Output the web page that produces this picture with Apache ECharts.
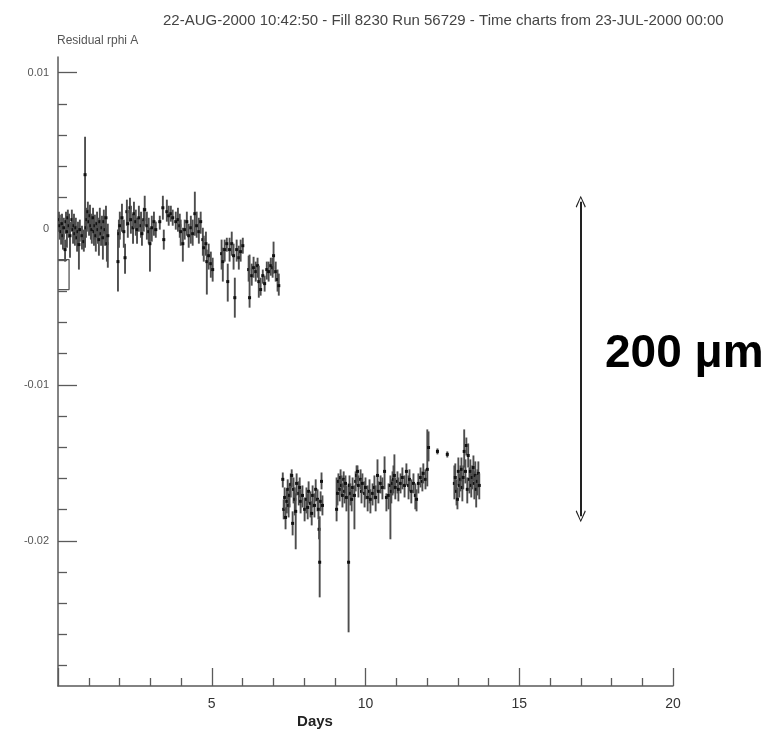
<!DOCTYPE html>
<html><head><meta charset="utf-8">
<script src="https://cdn.jsdelivr.net/npm/echarts@6/dist/echarts.min.js"></script>
<style>html,body{margin:0;padding:0;background:#fff}#c{width:782px;height:733px}</style>
</head><body><div id="c"></div>
<script>
const titleText = '22-AUG-2000 10:42:50 - Fill 8230 Run 56729 - Time charts from 23-JUL-2000 00:00';
const yAxisTitle = 'Residual rphi A';
const xAxisTitle = 'Days';
const xTickLabels = [5, 10, 15, 20];
const yMajorTicks = [-0.02, -0.01, 0, 0.01];
const yMinorTicks = [0.008, 0.006, 0.004, 0.002, -0.002, -0.004, -0.006, -0.008,
  -0.012, -0.014, -0.016, -0.018, -0.022, -0.024, -0.026, -0.028];

// [day, value, low end of bar, high end of bar]
const run1 = [
[0.03,0.00058,-0.00019,0.00109],[0.06,0.00019,-0.0007,0.0009],[0.10,-0.00019,-0.00102,0.00045],
[0.13,0.00032,-0.00045,0.00096],[0.16,-0.00045,-0.00134,0.00019],[0.19,0.00006,-0.0007,0.0007],
[0.23,-0.00134,-0.00211,-0.0007],[0.26,0.00045,-0.00032,0.00109],[0.29,-0.00019,-0.00122,0.00058],
[0.32,0.0007,-0.00006,0.00122],[0.36,0.00019,-0.00058,0.00096],[0.39,-0.00045,-0.00186,0.00045],
[0.45,0.00058,-0.00019,0.00122],[0.49,-0.00006,-0.00096,0.0007],[0.52,0.00019,-0.0007,0.00096],
[0.55,-0.00032,-0.00109,0.00045],[0.58,0.00006,-0.0007,0.0007],[0.62,-0.00058,-0.00147,0.00019],
[0.65,-0.00019,-0.00109,0.00045],[0.68,-0.00102,-0.00262,-0.00006],[0.71,-0.00006,-0.00083,0.00058],
[0.78,-0.00045,-0.00134,0.00019],[0.84,-0.00083,-0.00147,-0.00006],[0.88,0.00346,-0.00122,0.00589],
[0.91,0.00006,-0.00058,0.0007],[0.94,0.00058,-0.00019,0.00134],[0.97,0.00109,0.00032,0.00173],
[1.01,0.00045,-0.00045,0.00122],[1.04,0.00083,0.00006,0.00154],[1.07,0.00019,-0.0007,0.00096],
[1.10,-0.00006,-0.00096,0.00083],[1.14,0.0007,-0.00006,0.00134],[1.17,-0.00019,-0.00109,0.00058],
[1.20,0.00019,-0.0007,0.0009],[1.23,-0.00045,-0.00147,0.00045],[1.27,0.00032,-0.00058,0.00109],
[1.30,-0.00006,-0.00096,0.0007],[1.33,-0.0007,-0.00173,0.00019],[1.36,0.00045,-0.00045,0.00134],
[1.40,-0.00032,-0.00109,0.00058],[1.43,0.00006,-0.00083,0.00083],[1.46,-0.00058,-0.00198,0.00019],
[1.49,0.00045,-0.00032,0.00122],[1.53,-0.00006,-0.00109,0.00083],[1.56,0.0007,-0.00019,0.00147],
[1.59,-0.00096,-0.00211,-0.00006],[1.62,-0.00045,-0.0025,0.00032],[1.95,-0.00211,-0.00403,-0.00006],
[1.98,-0.00032,-0.00122,0.00058],[2.01,0.00019,-0.0007,0.00109],[2.08,0.0007,-0.00019,0.0016],
[2.14,-0.00019,-0.00122,0.00058],[2.18,-0.00186,-0.00288,-0.00096],[2.24,0.00109,0.00019,0.00186],
[2.27,0.00032,-0.00058,0.00122],[2.34,0.00134,0.00045,0.00198],[2.37,0.00058,-0.00032,0.00147],
[2.44,0.00006,-0.00096,0.00096],[2.47,0.00096,0.00006,0.00173],[2.53,0.00045,-0.00045,0.00122],
[2.57,-0.00006,-0.00096,0.0007],[2.63,0.0007,-0.00019,0.00147],[2.70,0.00019,-0.00058,0.00109],
[2.73,-0.00032,-0.00109,0.00058],[2.79,0.00058,-0.00019,0.00134],[2.82,0.00122,0.00019,0.00211],
[2.89,0.00019,-0.0007,0.00109],[2.95,-0.00019,-0.00096,0.0007],[2.99,-0.00096,-0.00275,0.00006],
[3.05,0.00006,-0.00083,0.00083],[3.12,0.00045,-0.00045,0.00109],[3.18,-0.00006,-0.00058,0.00045],
[3.31,0.00045,-0.00006,0.00083],[3.41,0.00134,0.00058,0.00211],[3.44,-0.0007,-0.00134,-0.00006],
[3.54,0.00109,0.00045,0.00186],[3.60,0.00083,0.00019,0.00147],[3.67,0.00096,0.00045,0.00147],
[3.73,0.0007,0.00019,0.00122],[3.83,0.00045,-0.00006,0.00109],[3.90,0.00058,-0.00019,0.00134],
[3.96,0.00019,-0.00058,0.00096],[3.99,-0.00019,-0.00109,0.00058],[4.06,-0.00096,-0.00211,0.00006],
[4.12,-0.00006,-0.0007,0.00058],[4.19,0.00045,-0.00045,0.00109],[4.25,-0.00045,-0.00122,0.00032],
[4.32,0.00006,-0.00096,0.00083],[4.38,-0.00032,-0.00109,0.00058],[4.45,0.00096,-0.00045,0.00237],
[4.51,0.00019,-0.00058,0.00109],[4.58,-0.00019,-0.00096,0.0007],[4.64,0.00045,-0.00032,0.00109],
[4.71,-0.0007,-0.00173,0.00006],[4.74,-0.00122,-0.00211,-0.00045],[4.81,-0.00096,-0.00173,-0.00019],
[4.84,-0.00211,-0.00422,-0.00134],[4.90,-0.00173,-0.00262,-0.00096],[4.97,-0.00224,-0.00314,-0.00147],
[5.03,-0.00262,-0.00339,-0.00186],[5.32,-0.0016,-0.00262,-0.0007],[5.36,-0.00211,-0.00339,-0.00122],
[5.42,-0.00134,-0.00211,-0.0007],[5.49,-0.00096,-0.00147,-0.00058],[5.52,-0.00339,-0.00467,-0.00224],
[5.58,-0.00134,-0.00211,-0.00058],[5.65,-0.00096,-0.00173,-0.00019],[5.71,-0.00173,-0.00262,-0.00096],
[5.75,-0.00442,-0.0057,-0.00314],[5.81,-0.00134,-0.00211,-0.0007],[5.88,-0.00186,-0.00262,-0.00109],
[5.94,-0.00147,-0.00211,-0.0007],[6.01,-0.00109,-0.0016,-0.00058],[6.20,-0.00262,-0.00339,-0.00173],
[6.23,-0.00442,-0.00506,-0.00166],[6.30,-0.00301,-0.00365,-0.00224],[6.36,-0.0025,-0.00314,-0.0018],
[6.43,-0.00275,-0.00339,-0.00211],[6.49,-0.00237,-0.00314,-0.00186],[6.53,-0.00339,-0.00442,-0.00237],
[6.59,-0.0039,-0.00429,-0.00314],[6.66,-0.00301,-0.00352,-0.00262],[6.72,-0.00352,-0.00403,-0.00301],
[6.79,-0.00262,-0.00326,-0.00211],[6.85,-0.00275,-0.00339,-0.00211],[6.92,-0.00237,-0.00301,-0.00186],
[6.98,-0.0025,-0.00314,-0.00186],[7.01,-0.00173,-0.00288,-0.00083],[7.08,-0.00275,-0.00339,-0.00211],
[7.14,-0.00326,-0.00403,-0.00262],[7.18,-0.00365,-0.00429,-0.00288]
];

const run2 = [
[7.31,-0.01606,-0.01658,-0.01562],[7.34,-0.01798,-0.01862,-0.01734],[7.37,-0.01722,-0.01798,-0.01658],
[7.40,-0.0185,-0.01926,-0.01786],[7.44,-0.01747,-0.01824,-0.0167],[7.47,-0.0167,-0.01734,-0.01606],
[7.50,-0.01773,-0.0185,-0.01696],[7.53,-0.01709,-0.01786,-0.01632],[7.57,-0.01638,-0.01722,-0.01568],
[7.60,-0.01581,-0.01658,-0.01542],[7.63,-0.01888,-0.01965,-0.01811],[7.66,-0.0167,-0.0176,-0.01594],
[7.70,-0.01734,-0.01837,-0.01658],[7.73,-0.01811,-0.02054,-0.01696],[7.76,-0.01632,-0.01709,-0.01568],
[7.83,-0.01696,-0.01773,-0.01619],[7.86,-0.01658,-0.01722,-0.01594],[7.89,-0.01747,-0.01824,-0.0167],
[7.95,-0.01709,-0.01786,-0.01645],[8.02,-0.01798,-0.01875,-0.01722],[8.08,-0.01734,-0.01824,-0.01658],
[8.12,-0.01786,-0.01862,-0.01696],[8.15,-0.01683,-0.0176,-0.01619],[8.21,-0.0176,-0.0185,-0.01683],
[8.25,-0.01824,-0.01901,-0.01747],[8.28,-0.01709,-0.01786,-0.01645],[8.34,-0.01773,-0.0185,-0.01696],
[8.38,-0.0167,-0.01747,-0.01606],[8.44,-0.01734,-0.01811,-0.0167],[8.47,-0.01798,-0.01862,-0.01734],
[8.49,-0.01926,-0.0199,-0.01862],[8.51,-0.02137,-0.02362,-0.01843],[8.54,-0.01747,-0.01811,-0.01683],
[8.57,-0.01619,-0.0167,-0.01562],[8.60,-0.01773,-0.01837,-0.01709],[9.06,-0.01798,-0.01875,-0.01594],
[9.09,-0.01696,-0.01773,-0.01619],[9.12,-0.01619,-0.0167,-0.01568],[9.16,-0.0167,-0.01747,-0.01594],
[9.19,-0.01594,-0.01645,-0.01542],[9.22,-0.01645,-0.01709,-0.01581],[9.25,-0.01709,-0.01786,-0.01632],
[9.29,-0.01606,-0.01658,-0.01555],[9.32,-0.01683,-0.0176,-0.01606],[9.35,-0.01632,-0.01696,-0.01581],
[9.38,-0.01722,-0.01811,-0.01645],[9.45,-0.02137,-0.02586,-0.01632],[9.48,-0.01645,-0.01709,-0.01581],
[9.51,-0.01696,-0.01773,-0.01632],[9.55,-0.01734,-0.01811,-0.0167],[9.58,-0.01658,-0.01722,-0.01594],
[9.64,-0.01709,-0.01926,-0.01645],[9.68,-0.01619,-0.01683,-0.01555],[9.71,-0.01581,-0.01645,-0.01517],
[9.74,-0.01555,-0.01619,-0.01517],[9.77,-0.01645,-0.01722,-0.01581],[9.84,-0.01606,-0.0167,-0.01542],
[9.87,-0.01683,-0.0176,-0.01606],[9.90,-0.01632,-0.01696,-0.01568],[9.97,-0.01696,-0.01786,-0.01619],
[10.00,-0.01658,-0.01734,-0.01594],[10.07,-0.01722,-0.01811,-0.01645],[10.13,-0.01683,-0.0176,-0.01606],
[10.16,-0.01734,-0.01824,-0.0167],[10.23,-0.01696,-0.01773,-0.01632],[10.29,-0.01658,-0.01734,-0.01581],
[10.33,-0.01722,-0.01811,-0.01645],[10.39,-0.01581,-0.01683,-0.01478],[10.42,-0.01683,-0.0176,-0.01619],
[10.49,-0.01632,-0.01696,-0.01581],[10.55,-0.01658,-0.01734,-0.01594],[10.62,-0.01555,-0.0167,-0.01459],
[10.68,-0.01722,-0.01811,-0.01696],[10.75,-0.01709,-0.01798,-0.01632],[10.81,-0.01645,-0.0199,-0.01581],
[10.84,-0.01683,-0.0176,-0.01606],[10.88,-0.01632,-0.01709,-0.01555],[10.91,-0.01606,-0.01696,-0.01517],
[10.94,-0.01581,-0.0167,-0.01446],[10.97,-0.01658,-0.01734,-0.01594],[11.04,-0.01619,-0.01696,-0.01555],
[11.07,-0.0167,-0.01747,-0.01594],[11.14,-0.01632,-0.01696,-0.01568],[11.20,-0.01594,-0.0167,-0.0153],
[11.27,-0.01645,-0.01722,-0.01581],[11.33,-0.01555,-0.01645,-0.01504],[11.40,-0.01645,-0.01734,-0.01581],
[11.43,-0.01606,-0.01683,-0.01542],[11.49,-0.01683,-0.0176,-0.01606],[11.56,-0.01632,-0.01696,-0.01568],
[11.62,-0.01709,-0.01798,-0.01632],[11.66,-0.01734,-0.01811,-0.0167],[11.72,-0.01632,-0.01696,-0.01568],
[11.79,-0.01594,-0.01658,-0.0153],[11.85,-0.01619,-0.01683,-0.01555],[11.88,-0.01568,-0.01632,-0.01504],
[11.95,-0.01606,-0.0167,-0.01542],[12.01,-0.01542,-0.01651,-0.01286],[12.05,-0.01402,-0.01491,-0.01299],
[12.34,-0.01427,-0.01446,-0.01408],[12.66,-0.01446,-0.01466,-0.01427],[12.89,-0.01632,-0.01734,-0.01517],
[12.92,-0.01594,-0.01683,-0.01504],[12.96,-0.01683,-0.01773,-0.01606],[12.99,-0.01734,-0.01798,-0.01658],
[13.02,-0.01555,-0.01645,-0.01466],[13.05,-0.01645,-0.01722,-0.01568],[13.09,-0.01606,-0.01683,-0.01517],
[13.12,-0.01542,-0.01619,-0.01466],[13.15,-0.01658,-0.01747,-0.01581],[13.18,-0.01594,-0.0167,-0.01517],
[13.21,-0.01427,-0.0153,-0.01286],[13.25,-0.01555,-0.01632,-0.01478],[13.28,-0.01389,-0.01453,-0.01338],
[13.31,-0.0167,-0.0176,-0.01594],[13.34,-0.01453,-0.0153,-0.01376],[13.38,-0.01606,-0.01696,-0.0153],
[13.41,-0.01555,-0.01645,-0.01478],[13.44,-0.01645,-0.01722,-0.01568],[13.47,-0.01594,-0.0167,-0.01517],
[13.51,-0.0153,-0.01619,-0.01453],[13.54,-0.01632,-0.01734,-0.01555],[13.57,-0.01581,-0.0167,-0.01491],
[13.60,-0.0167,-0.01786,-0.01581],[13.64,-0.01619,-0.01709,-0.01542],[13.67,-0.01568,-0.01658,-0.01491],
[13.70,-0.01645,-0.01734,-0.01568]
];

const startBoxDays = [0, 0.36, 0.36, 0];
const startBoxVals = [-0.00198, -0.00198, -0.0039, -0.0039];
const scaleBarDay = 17;
const scaleBarEnds = [0.00173, -0.01843];
const scaleBarLabel = '200 \u03bcm';

const chart = echarts.init(document.getElementById('c'), null, {renderer: 'canvas'});
const axisColor = '#5a5a5a';

function renderErr(params, api) {
  const d = api.value(0);
  const c = api.coord([d, api.value(1)]);
  const lo = api.coord([d, api.value(2)]);
  const hi = api.coord([d, api.value(3)]);
  return {
    type: 'group',
    children: [
      {type: 'line', shape: {x1: c[0], y1: lo[1], x2: c[0], y2: hi[1]},
       style: {stroke: '#4d4d4d', lineWidth: 1.9}},
      {type: 'rect', shape: {x: c[0] - 1.5, y: c[1] - 1.5, width: 3, height: 3},
       style: {fill: '#111'}}
    ]
  };
}

const chevron = 'path://M0,0 L6,10 L5,11 L0,2.2 L-5,11 L-6,10 Z';

chart.setOption({
  animation: false,
  backgroundColor: '#fff',
  title: {
    text: titleText, left: 158, top: 8,
    textStyle: {fontFamily: 'Liberation Sans', fontSize: 15, fontWeight: 'normal', color: '#444'}
  },
  grid: {left: 58, right: 109, top: 57, bottom: 47},
  xAxis: {
    type: 'value', min: 0, max: 20, interval: 5,
    axisLine: {onZero: false, lineStyle: {color: axisColor, width: 1.5}},
    axisTick: {inside: true, length: 18, lineStyle: {color: axisColor, width: 1.3}},
    minorTick: {show: true, splitNumber: 5, length: 8, lineStyle: {color: axisColor, width: 1.3}},
    axisLabel: {
      margin: 11, fontSize: 14, color: '#333', fontFamily: 'Liberation Sans',
      formatter: v => (xTickLabels.indexOf(v) >= 0 ? String(v) : '')
    },
    splitLine: {show: false}
  },
  yAxis: [{
    type: 'value', min: -0.0293, max: 0.011, position: 'left',
    axisLine: {show: true, onZero: false, lineStyle: {color: axisColor, width: 1.5}},
    axisTick: {show: true, inside: true, length: 19, customValues: yMajorTicks,
      lineStyle: {color: axisColor, width: 1.3}},
    axisLabel: {customValues: yMajorTicks, margin: 9, fontSize: 11, color: '#555',
      fontFamily: 'Liberation Sans', formatter: v => String(v)},
    splitLine: {show: false}
  }, {
    type: 'value', min: -0.0293, max: 0.011, position: 'left',
    axisLine: {show: false, onZero: false},
    axisTick: {show: true, inside: true, length: 9, customValues: yMinorTicks,
      lineStyle: {color: axisColor, width: 1.3}},
    axisLabel: {show: false},
    splitLine: {show: false}
  }],
  graphic: [
    {type: 'text', left: 57, top: 35, style: {text: yAxisTitle, fontSize: 12,
      fontFamily: 'Liberation Sans', fill: '#555'}},
    {type: 'text', x: 315, y: 722, style: {text: xAxisTitle, fontSize: 15, fontWeight: 'bold',
      fontFamily: 'Liberation Sans', fill: '#222', align: 'center', verticalAlign: 'middle'}},
    {type: 'text', x: 605, y: 354, style: {text: scaleBarLabel, fontSize: 46, fontWeight: 'bold',
      fontFamily: 'Liberation Sans', fill: '#000', align: 'left', verticalAlign: 'middle'}}
  ],
  series: [
    {type: 'custom', name: 'run1', renderItem: renderErr, data: run1,
     encode: {x: 0, y: [1, 2, 3]}, clip: true, silent: true},
    {type: 'custom', name: 'run2', renderItem: renderErr, data: run2,
     encode: {x: 0, y: [1, 2, 3]}, clip: true, silent: true},
    {type: 'line', name: 'start', data: startBoxDays.map((d, i) => [d, startBoxVals[i]]),
     symbol: 'none', lineStyle: {color: '#555', width: 1.3}, silent: true,
     markLine: {
       silent: true, symbol: [chevron, chevron], symbolSize: [10, 12],
       label: {show: false},
       lineStyle: {color: '#222', width: 2, type: 'solid'},
       data: [[{coord: [scaleBarDay, scaleBarEnds[0]]}, {coord: [scaleBarDay, scaleBarEnds[1]]}]]
     }}
  ]
});
</script></body></html>
